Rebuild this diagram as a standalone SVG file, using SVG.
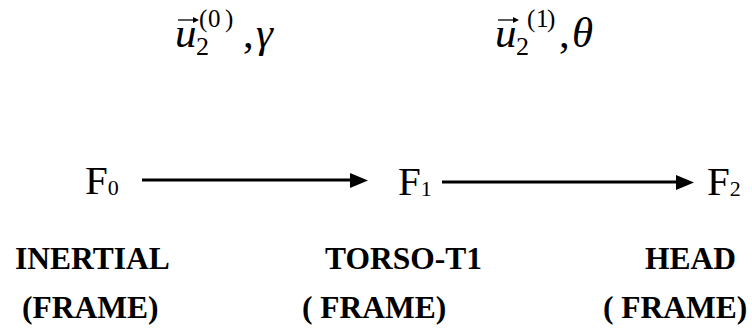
<svg xmlns="http://www.w3.org/2000/svg" width="752" height="336" viewBox="0 0 752 336">
<style>
.t{font-family:"Liberation Serif","Times New Roman",serif;fill:#000}
.it{font-style:italic}
.f{font-size:41px}
.sub{font-size:22px}
.lab{font-size:31.5px;font-weight:bold}
.c{stroke:#000;stroke-width:3;fill:none}
.h{fill:#000}
.v{stroke:#000;stroke-width:1.3;fill:none}
</style>
<rect width="752" height="336" fill="#fff"/>
<g id="label-0">
<text class="t" font-size="43"><tspan class="it" x="175" y="47">u</tspan><tspan font-size="26" x="196" y="55">2</tspan><tspan font-size="25" x="199" y="27">(</tspan><tspan font-size="25" x="208" y="27">0</tspan><tspan font-size="25" x="225" y="27">)</tspan><tspan x="243" y="47">,</tspan><tspan class="it" x="256" y="47">γ</tspan></text>
<path class="v" d="M178,20 H196"/><polygon class="h" points="199,20 193,17 193,23"/>
</g>
<g id="label-1">
<text class="t" font-size="43"><tspan class="it" x="495" y="47">u</tspan><tspan font-size="26" x="516" y="55">2</tspan><tspan font-size="25" x="527" y="27">(</tspan><tspan font-size="25" x="536" y="27">1</tspan><tspan font-size="25" x="547" y="27">)</tspan><tspan x="559" y="47">,</tspan><tspan class="it" x="572" y="47">θ</tspan></text>
<path class="v" d="M498,20 H516"/><polygon class="h" points="519,20 513,17 513,23"/>
</g>
<g id="F0"><text class="t f" x="85" y="194">F<tspan class="sub" dy="1">0</tspan></text></g>
<g id="F1"><text class="t f" x="398" y="195">F<tspan class="sub" dy="1">1</tspan></text></g>
<g id="F2"><text class="t f" x="707" y="195">F<tspan class="sub" dy="1">2</tspan></text></g>
<g id="connectors">
<line class="c" x1="142" y1="180" x2="352" y2="180"/>
<polygon class="h" points="368,180.5 350,173 350,188"/>
<line class="c" x1="442" y1="182" x2="678" y2="182"/>
<polygon class="h" points="694,182.5 676,175 676,190"/>
</g>
<g id="inertial">
<text class="t lab" x="15" y="269">INERTIAL</text>
<text class="t lab" x="22" y="318">(FRAME)</text>
</g>
<g id="torso">
<text class="t lab" x="325" y="269">TORSO-T1</text>
<text class="t lab" x="302" y="318">( FRAME)</text>
</g>
<g id="head">
<text class="t lab" x="645" y="269">HEAD</text>
<text class="t lab" x="603" y="318">( FRAME)</text>
</g>
</svg>
